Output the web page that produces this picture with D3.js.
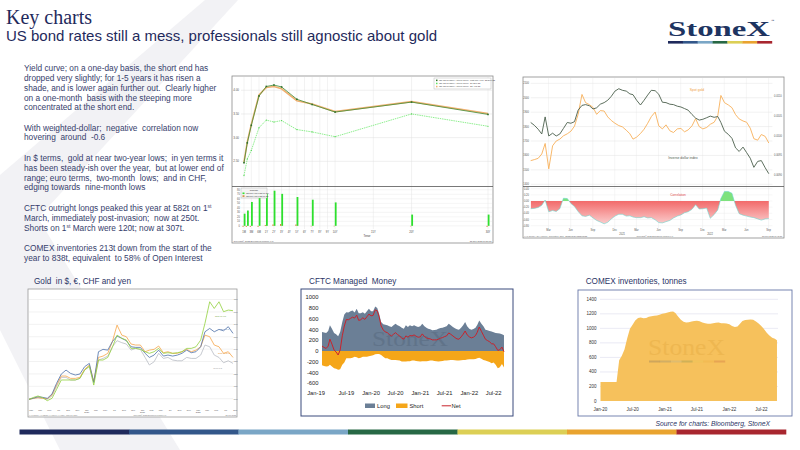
<!DOCTYPE html>
<html><head><meta charset="utf-8">
<script src="https://cdn.jsdelivr.net/npm/d3@7/dist/d3.min.js"></script>
<style>
html,body{margin:0;padding:0;background:#fff;}
svg{display:block;font-family:"Liberation Sans",Arial,sans-serif;}
text{white-space:pre;}
</style></head><body>
<svg id="c" width="800" height="450" xmlns="http://www.w3.org/2000/svg"></svg>
<script>
// ================= DATA =================
// Yield curve (US Treasury actives)
const tenors = ["1M","2M","3M","6M","1Y","2Y","3Y","5Y","7Y","10Y","20Y","30Y"];
const tenorYears = [1/12,2/12,3/12,0.5,1,2,3,5,7,10,20,30];
const yieldNow = [2.47,2.89,3.26,3.88,4.08,4.11,4.07,3.81,3.70,3.54,3.75,3.49];
const yieldPrevDay = [2.49,2.91,3.28,3.90,4.06,4.08,4.03,3.78,3.71,3.55,3.76,3.51];
const yieldMonthAgo = [2.20,2.55,2.73,3.21,3.37,3.33,3.36,3.17,3.12,3.02,3.50,3.24];
const yieldTickLabels = ["1M","3M","6M","1Y","2Y","3Y","4Y","5Y","6Y","7Y","8Y","9Y","10Y","15Y","20Y","30Y"];
const yieldTickYears = [1/12,0.25,0.5,1,2,3,4,5,6,7,8,9,10,15,20,30];
const yieldAxisTicks = [2.5,3.0,3.5,4.0];
const changeAxisTicks = [0,10,20,30,40,50,60,70,80];

// Spot gold vs inverse dollar index, semi-monthly from Jan 2020
const goldSpot = [1564,1571,1580,1610,1683,1507,1667,1700,1713,1736,
  1750,1768,1803,1885,2023,1966,1952,1933,1885,1911,
  1908,1867,1842,1823,1807,1798,1775,1750,1713,1727,
  1752,1782,1823,1869,1901,1805,1784,1812,1771,1759,
  1784,1787,1764,1777,1805,1855,1800,1784,1794,1816,
  1830,1874,2016,1966,1950,1931,1883,1853,1839,1830,
  1789,1716,1706,1745,1732,1686];
const invDollar = [0.01033,0.01026,0.01016,0.01004,0.01047,0.00999,0.01006,0.00999,0.01004,0.01018,
  0.01033,0.01031,0.01035,0.01064,0.01076,0.01078,0.01075,0.01067,0.01070,0.01079,
  0.01083,0.01089,0.01099,0.01112,0.01118,0.01114,0.01112,0.01105,0.01103,0.01089,
  0.01077,0.01089,0.01102,0.01114,0.01113,0.01104,0.01084,0.01083,0.01079,0.01078,
  0.01074,0.01072,0.01068,0.01064,0.01053,0.01044,0.01039,0.01041,0.01045,0.01049,
  0.01046,0.01048,0.01033,0.01011,0.01003,0.00993,0.00969,0.00960,0.00971,0.00957,
  0.00943,0.00920,0.00935,0.00937,0.00919,0.00904];
const goldDollarCorr = [-0.25,-0.24,-0.21,-0.14,0.03,-0.35,-0.31,-0.34,-0.25,0.09,
  0.08,-0.08,-0.18,-0.34,-0.48,-0.50,-0.46,-0.55,-0.63,-0.68,
  -0.74,-0.69,-0.58,-0.49,-0.43,-0.43,-0.49,-0.48,-0.52,-0.54,
  -0.54,-0.51,-0.55,-0.54,-0.61,-0.70,-0.71,-0.67,-0.63,-0.55,
  -0.49,-0.45,-0.38,-0.35,-0.27,-0.12,-0.26,-0.25,-0.23,-0.56,
  -0.44,-0.29,0.08,0.31,0.31,0.25,-0.14,-0.41,-0.46,-0.49,
  -0.52,-0.54,-0.58,-0.62,-0.58,-0.57];
const goldTicks = [1400,1500,1600,1700,1800,1900,2000,2100];
const invTicks = [0.0090,0.0095,0.0100,0.0105,0.0110];
const corrTicks = [0.4,0.2,0,-0.2,-0.4,-0.6,-0.8];

// Gold in $, EUR, CHF, JPY (indexed), monthly from Jan 2019
const goldUSDIdx = [99.5,100.3,100.8,100.3,99.5,102.2,109.7,117.2,117.2,115.1,
  115.1,116.4,123.1,125.8,113.5,131.2,132.5,134.4,141.9,146.8,
  145.2,144.1,139.2,140.6,139.8,133.3,127.2,129.8,136.6,132.5,
  133.3,131.2,130.6,130.6,133.3,132.5,132.5,135.2,143.3,141.9,
  135.2,133.3,129.0,130.6,128.5];
const goldEURIdx = [99.5,100.5,101.6,101.1,100.3,103.8,112.4,119.9,123.1,120.4,
  119.1,119.9,125.8,128.5,113.0,137.9,139.8,139.2,146.0,150.5,
  148.7,146.8,141.9,141.4,141.4,136.6,133.3,135.2,139.2,134.4,
  135.2,134.4,135.2,136.6,139.2,137.1,137.9,141.9,154.0,156.7,
  154.0,155.9,154.8,158.1,152.7];
const goldCHFIdx = [99.5,100.3,100.8,100.3,100.0,103.0,111.0,118.3,118.3,116.4,
  116.4,117.2,123.7,127.2,114.0,133.3,134.4,136.6,146.0,159.4,
  151.3,150.0,144.1,143.3,143.3,137.9,139.2,139.8,142.5,137.1,
  137.9,136.6,136.6,137.9,139.8,137.9,139.2,141.9,151.3,150.0,
  143.3,141.9,136.6,137.9,133.3];
const goldJPYIdx = [99.5,101.1,102.2,100.8,98.4,100.3,107.5,115.1,115.1,115.1,
  115.1,116.4,123.1,126.3,111.0,131.2,131.2,133.3,141.4,151.3,
  148.7,147.3,140.6,140.6,139.8,137.9,136.6,137.9,140.6,136.6,
  137.1,136.6,137.1,137.9,140.6,140.6,141.9,147.3,160.8,178.2,
  172.8,178.2,170.2,171.5,171.0];
const goldIdxTicks = [100,110,120,130,140,150,160,170,180];

// CFTC managed money (tonnes), semi-monthly from Jan 2019
const cftcLong = [356,343,337,374,478,417,337,313,276,356,
  540,680,723,717,742,754,717,785,705,705,
  723,693,742,785,742,742,828,803,693,540,
  497,490,478,460,447,478,509,478,460,435,
  417,478,447,478,460,478,
  460,447,460,509,460,435,417,405,386,392,
  398,417,429,435,447,460,509,478,447,423,
  405,398,435,478,539,460,417,398,411,435,
  484,570,509,460,398,386,374,362,349,337,
  331,325,313,294];
const cftcShort = [-264,-276,-288,-282,-257,-288,-319,-331,-349,-337,
  -257,-215,-135,-135,-135,-123,-104,-116,-135,-123,
  -104,-104,-104,-98,-86,-80,-61,-55,-55,-74,
  -104,-135,-135,-153,-166,-166,-166,-172,-178,-196,
  -196,-196,-190,-190,-178,-178,
  -184,-190,-196,-190,-190,-190,-184,-178,-178,-184,
  -190,-196,-190,-184,-178,-178,-172,-166,-166,-172,
  -178,-178,-172,-166,-166,-159,-153,-153,-153,-147,
  -135,-123,-141,-166,-178,-190,-202,-227,-215,-257,
  -319,-300,-239,-307];
const cftcTicks = [1000,800,600,400,200,0,-200,-400,-600];

// COMEX inventories (tonnes), semi-monthly from Jan 2020 plus latest
const comexTonnes = [262,262,262,262,262,262,262,562,622,710,
  868,993,1049,1109,1142,1150,1140,1144,1159,1167,
  1172,1177,1189,1200,1209,1219,1228,1232,1213,1164,
  1119,1091,1081,1085,1094,1101,1104,1099,1080,1069,
  1064,1063,1071,1076,1081,1072,1072,1066,1055,1032,
  1020,1024,1059,1102,1115,1120,1122,1118,1094,1067,
  1034,990,941,901,871,856];
const comexLatest = {date:"2022-09-28", value:838};
const comexTicks = [0,200,400,600,800,1000,1200,1400];

// Text
const titleMain = "Key charts";
const titleSub = "US bond rates still a mess, professionals still agnostic about gold";
const paragraphs = [
  [[["Yield curve; on a one-day basis, the short end has"]],
   [["dropped very slightly; for 1-5 years it has risen a"]],
   [["shade, and is lower again further out.  Clearly higher"]],
   [["on a one-month  basis with the steeping more"]],
   [["concentrated at the short end."]]],
  [[["With weighted-dollar;  negative  correlation now"]],
   [["hovering  around  -0.6"]]],
  [[["In $ terms,  gold at near two-year lows;  in yen terms it"]],
   [["has been steady-ish over the year,  but at lower end of"]],
   [["range; euro terms,  two-month  lows;  and in CHF,"]],
   [["edging towards  nine-month lows"]]],
  [[["CFTC outright longs peaked this year at 582t on 1"],["st",1]],
   [["March, immediately post-invasion;  now at 250t."]],
   [["Shorts on 1"],["st",1],[" March were 120t; now at 307t."]]],
  [[["COMEX inventories 213t down from the start of the"]],
   [["year to 838t, equivalent  to 58% of Open Interest"]]]
];
const brandColors = ["#1f2a5c","#33578a","#7aa6c6","#276845","#dccf55","#e9a32f","#a8262f"];

// ================= DRAW =================
const svg = d3.select("#c");
const NAVY = "#1f2a5c";
const TXT = "#363e6c";
const defs = svg.append("defs");

function T(g, x, y, s, o) {
  const t = g.append("text").attr("x", x).attr("y", y).text(s);
  if (o) for (const k in o) t.attr(k, o[k]);
  return t;
}
function semiMonthly(y0, m0, n) {
  const out = [];
  for (let i = 0; i < n; i++) out.push(new Date(y0, m0 + Math.floor(i / 2), i % 2 === 0 ? 1 : 16));
  return out;
}
const fmtMY = d3.timeFormat("%b-%y");

// background watermark chevron
svg.append("polygon").attr("points","205,0 238,0 38,218 180,450 60,450 0,330 0,175").attr("fill","#f2f2f5");

// titles
T(svg, 6, 24, titleMain, {"font-family":"Liberation Serif, Times New Roman, serif","font-size":20,"fill":NAVY});
T(svg, 6, 41, titleSub, {"font-size":15,"fill":NAVY});

// logo
const logo = svg.append("g");
T(logo, 668, 36, "StoneX", {"font-family":"Liberation Serif, serif","font-weight":"bold","font-size":22,"fill":"#1e3461","textLength":102,"lengthAdjust":"spacingAndGlyphs"});
T(logo, 771, 22, "™", {"font-size":3.5,"fill":"#1e3461"});
const logoX = d3.scaleBand().domain(d3.range(7)).range([668, 772]);
logo.selectAll("rect").data(brandColors).join("rect")
  .attr("x",(d,i)=>logoX(i)).attr("y",41).attr("width",logoX.bandwidth()+0.2).attr("height",2.6).attr("fill",d=>d);

// body text
const paraStart = [71.2, 130.5, 161, 211, 251];
const lineH = 9.8;
const body = svg.append("g").attr("font-size",8.3).attr("fill",TXT);
paragraphs.forEach((p, pi) => {
  p.forEach((line, li) => {
    const t = body.append("text").attr("x",24).attr("y",paraStart[pi] + li*lineH);
    line.forEach(seg => {
      const ts = t.append("tspan").text(seg[0]);
      if (seg[1]) ts.attr("font-size",5).attr("dy",-3);
      else if (line.length > 1 && line.indexOf(seg) > 0 && line[line.indexOf(seg)-1][1]) ts.attr("dy",3);
    });
  });
});

// ---------- Chart 1: yield curve ----------
(function(){
  const g = svg.append("g");
  const L = 241, R = 492, T1 = 77, B1 = 185, T2 = 188, B2 = 229;
  g.append("rect").attr("x",232).attr("y",76).attr("width",261).attr("height",167).attr("fill","#fff").attr("stroke","#8a8a8a").attr("stroke-width",0.8);
  const x = d3.scaleLinear().domain([1/12,2/12,3/12,0.5,1,30]).range([244,247.3,251.3,259,266.3,488]);
  const y = d3.scaleLinear().domain([2.0,4.28]).range([B1,T1]);
  const y2 = d3.scaleLinear().domain([-7,84]).range([B2,T2]);
  // grids
  g.selectAll(".vg").data(yieldTickYears).join("line").attr("x1",d=>x(d)).attr("x2",d=>x(d)).attr("y1",T1).attr("y2",B2)
    .attr("stroke","#e4e4e4").attr("stroke-width",0.5);
  g.selectAll(".hg").data(yieldAxisTicks).join("line").attr("x1",L).attr("x2",R).attr("y1",d=>y(d)).attr("y2",d=>y(d))
    .attr("stroke","#dedede").attr("stroke-width",0.5);
  g.selectAll(".hg2").data(changeAxisTicks).join("line").attr("x1",L).attr("x2",R).attr("y1",d=>y2(d)).attr("y2",d=>y2(d))
    .attr("stroke","#e6e6e6").attr("stroke-width",0.4);
  g.selectAll(".yl").data(yieldAxisTicks).join("text").attr("x",239).attr("y",d=>y(d)+1).attr("text-anchor","end")
    .attr("font-size",3).attr("fill","#555").text(d=>d.toFixed(2));
  g.selectAll(".yl2").data(changeAxisTicks).join("text").attr("x",240).attr("y",d=>y2(d)+1).attr("text-anchor","end")
    .attr("font-size",2.6).attr("fill","#555").text(d=>d);
  g.append("line").attr("x1",232).attr("x2",493).attr("y1",186.5).attr("y2",186.5).attr("stroke","#555").attr("stroke-width",0.8);
  // lines
  const pts = v => v.map((d,i)=>[x(tenorYears[i]), y(d)]);
  const ln = d3.line();
  g.append("path").attr("d",ln(pts(yieldMonthAgo))).attr("fill","none").attr("stroke","#5ee65e").attr("stroke-width",0.7).attr("stroke-dasharray","1.5,0.8");
  g.append("path").attr("d",ln(pts(yieldPrevDay))).attr("fill","none").attr("stroke","#f0b070").attr("stroke-width",1.6);
  g.append("path").attr("d",ln(pts(yieldNow))).attr("fill","none").attr("stroke","#3f8c36").attr("stroke-width",0.8);
  g.selectAll(".mk").data(yieldNow).join("rect").attr("x",(d,i)=>x(tenorYears[i])-0.8).attr("y",d=>y(d)-0.8)
    .attr("width",1.6).attr("height",1.6).attr("fill","#2f6f2a");
  g.selectAll(".mk3").data(yieldMonthAgo).join("circle").attr("cx",(d,i)=>x(tenorYears[i])).attr("cy",d=>y(d)).attr("r",0.6).attr("fill","#4cd44c");
  // legend upper
  g.append("rect").attr("x",434).attr("y",78).attr("width",57).attr("height",11).attr("fill","#fff").attr("stroke","#aaa").attr("stroke-width",0.4);
  const legItems = [["#2f6f2a","I25 US Treasury Actives Curve  Last Mid YTM  22-Sep-22"],["#5ee65e","I25 US Treasury Actives Curve  21-Sep-22"],["#f0b070","I25 US Treasury Actives Curve  22-Aug-22"]];
  legItems.forEach((d,i)=>{
    g.append("rect").attr("x",436).attr("y",79.6+i*3.1).attr("width",1.5).attr("height",1.5).attr("fill",d[0]);
    T(g, 439, 81+i*3.1, d[1], {"font-size":2.2,"fill":"#444"});
  });
  // bars
  const chgMonth = yieldNow.map((d,i)=>Math.round((d - yieldMonthAgo[i])*100));
  const chgDay = yieldNow.map((d,i)=>Math.round((d - yieldPrevDay[i])*100));
  g.selectAll(".bm").data(chgMonth).join("rect").attr("x",(d,i)=>x(tenorYears[i])-0.3).attr("width",1.8)
    .attr("y",d=>y2(Math.max(0,d))).attr("height",d=>Math.abs(y2(d)-y2(0))).attr("fill","#2ee02e");
  g.selectAll(".bd").data(chgDay).join("rect").attr("x",(d,i)=>x(tenorYears[i])-1.6).attr("width",1.3)
    .attr("y",d=>y2(Math.max(0,d))).attr("height",d=>Math.max(0.4,Math.abs(y2(d)-y2(0)))).attr("fill","#d08a3a");
  g.append("rect").attr("x",241).attr("y",188).attr("width",26).attr("height",10).attr("fill","#f4f4f4").attr("stroke","#aaa").attr("stroke-width",0.4);
  T(g, 254, 190.8, "Change", {"font-size":2.4,"fill":"#333","text-anchor":"middle"});
  T(g, 246, 194, "I25 Mid YTM (Last vs 1M)", {"font-size":2,"fill":"#333"});
  T(g, 246, 196.8, "I25 Mid YTM (Last vs 1D)", {"font-size":2,"fill":"#333"});
  g.append("rect").attr("x",242.5).attr("y",192.5).attr("width",2).attr("height",1.6).attr("fill","#2ee02e");
  g.append("rect").attr("x",242.5).attr("y",195.3).attr("width",2).attr("height",1.6).attr("fill","#d08a3a");
  g.selectAll(".xl").data(yieldTickLabels).join("text").attr("x",(d,i)=>x(yieldTickYears[i])).attr("y",232.5)
    .attr("text-anchor","middle").attr("font-size",2.6).attr("fill","#444").text(d=>d);
  T(g, 367, 237, "Tenor", {"font-size":2.8,"fill":"#444","text-anchor":"middle"});
  T(g, 233.5, 241.5, "Copyright© 2022 Bloomberg Finance L.P.", {"font-size":2.2,"fill":"#555"});
  T(g, 491.5, 241.5, "22-Sep-2022 10:21:15", {"font-size":2.2,"fill":"#555","text-anchor":"end"});
})();

// ---------- Chart 2: spot gold vs inverse dollar ----------
(function(){
  const g = svg.append("g");
  const L = 530.7, R = 772.4, T1 = 78, B1 = 186, T2 = 187, B2 = 229;
  g.append("rect").attr("x",523).attr("y",77).attr("width",261).attr("height",161).attr("fill","#fff").attr("stroke","#8a8a8a").attr("stroke-width",0.8);
  const dates = semiMonthly(2020,0,goldSpot.length);
  const x = d3.scaleTime().domain([new Date(2020,0,1), new Date(2022,9,1)]).range([L,R]);
  const yG = d3.scaleLinear().domain([1388,2137]).range([B1,T1]);
  const yI = d3.scaleLinear().domain([0.00873,0.01145]).range([B1,T1]);
  const yC = d3.scaleLinear().domain([-0.908,0.454]).range([B2,T2]);
  const qMid = d3.timeMonth.range(new Date(2020,0,1), new Date(2022,9,1)).filter(d=>d.getMonth()%3===2).map(d=>new Date(d.getFullYear(), d.getMonth(), 15));
  g.selectAll(".vg").data(qMid).join("line").attr("x1",d=>x(d)).attr("x2",d=>x(d)).attr("y1",T1).attr("y2",B2).attr("stroke","#ececec").attr("stroke-width",0.5);
  g.selectAll(".hg").data(goldTicks).join("line").attr("x1",L).attr("x2",R).attr("y1",d=>yG(d)).attr("y2",d=>yG(d)).attr("stroke","#e2e2e2").attr("stroke-width",0.5);
  g.selectAll(".hg2").data(corrTicks).join("line").attr("x1",L).attr("x2",R).attr("y1",d=>yC(d)).attr("y2",d=>yC(d)).attr("stroke","#ececec").attr("stroke-width",0.4);
  g.selectAll(".gl").data(goldTicks).join("text").attr("x",529).attr("y",d=>yG(d)+1).attr("text-anchor","end").attr("font-size",2.6).attr("fill","#555").text(d=>d);
  g.selectAll(".il").data(invTicks).join("text").attr("x",774).attr("y",d=>yI(d)+1).attr("font-size",2.6).attr("fill","#555").text(d=>d.toFixed(4));
  g.selectAll(".cl").data(corrTicks).join("text").attr("x",529).attr("y",d=>yC(d)+1).attr("text-anchor","end").attr("font-size",2.6).attr("fill","#555").text(d=>d.toFixed(2));
  g.append("line").attr("x1",523).attr("x2",784).attr("y1",186.5).attr("y2",186.5).attr("stroke","#555").attr("stroke-width",0.8);
  g.append("path").attr("d",d3.line().x((d,i)=>x(dates[i])).y(d=>yG(d))(goldSpot)).attr("fill","none").attr("stroke","#f7b05a").attr("stroke-width",0.9);
  g.append("path").attr("d",d3.line().x((d,i)=>x(dates[i])).y(d=>yI(d))(invDollar)).attr("fill","none").attr("stroke","#4b5f4c").attr("stroke-width",0.9);
  T(g, 697, 91, "Spot gold", {"font-size":3.4,"fill":"#f0a040","text-anchor":"middle"});
  T(g, 683, 158.5, "Inverse dollar index", {"font-size":3.4,"fill":"#50604f","text-anchor":"middle"});
  // correlation
  const grad = defs.append("linearGradient").attr("id","redg").attr("gradientUnits","userSpaceOnUse").attr("x1",0).attr("x2",0).attr("y1",yC(0)).attr("y2",B2);
  grad.append("stop").attr("offset",0).attr("stop-color","#f26a6a");
  grad.append("stop").attr("offset",1).attr("stop-color","#fde3e3");
  defs.append("clipPath").attr("id","cpos").append("rect").attr("x",L).attr("y",T2).attr("width",R-L).attr("height",yC(0)-T2);
  defs.append("clipPath").attr("id","cneg").append("rect").attr("x",L).attr("y",yC(0)).attr("width",R-L).attr("height",B2-yC(0));
  const ar = d3.area().x((d,i)=>x(dates[i])).y0(yC(0)).y1(d=>yC(d));
  g.append("path").attr("d",ar(goldDollarCorr)).attr("fill","#7ee27e").attr("clip-path","url(#cpos)");
  g.append("path").attr("d",ar(goldDollarCorr)).attr("fill","url(#redg)").attr("clip-path","url(#cneg)");
  g.append("path").attr("d",d3.line().x((d,i)=>x(dates[i])).y(d=>yC(d))(goldDollarCorr)).attr("fill","none").attr("stroke","#6fd6cf").attr("stroke-width",0.6);
  T(g, 678, 196, "Correlation", {"font-size":3.2,"fill":"#e04848","text-anchor":"middle"});
  g.selectAll(".ml").data(qMid).join("text").attr("x",d=>x(d)).attr("y",231.3).attr("text-anchor","middle").attr("font-size",2.6).attr("fill","#555").text(d=>d3.timeFormat("%b")(d));
  const yrs = [new Date(2021,0,15), new Date(2022,0,15)];
  g.selectAll(".yr").data(yrs).join("text").attr("x",d=>x(d)).attr("y",234.5).attr("text-anchor","middle").attr("font-size",2.6).attr("fill","#555").text(d=>d.getFullYear());
  T(g, 524, 237, "XAU Curncy / DXY Curncy  Correlation  Daily  22SEP2020-22SEP2022", {"font-size":2,"fill":"#666"});
  T(g, 655, 237, "Copyright© 2022 Bloomberg Finance L.P.", {"font-size":2,"fill":"#666","text-anchor":"middle"});
  T(g, 782, 237, "22-Sep-2022 10:42:25", {"font-size":2,"fill":"#666","text-anchor":"end"});
})();

// ---------- Chart 3: gold in $, EUR, CHF, yen ----------
(function(){
  const g = svg.append("g");
  T(g, 34, 284, "Gold  in $, €, CHF and yen", {"font-size":8.2,"fill":"#2b3566"});
  g.append("rect").attr("x",28).attr("y",289).attr("width",209).attr("height",128).attr("fill","#fff").attr("stroke","#9a9a9a").attr("stroke-width",0.8);
  const dates = d3.timeMonth.range(new Date(2019,0,1), new Date(2022,9,1));
  const x = d3.scaleTime().domain([new Date(2019,0,1), new Date(2022,8,1)]).range([29,233]);
  const y = d3.scaleLinear().domain([92.5,187.7]).range([408,290]);
  g.selectAll(".hg").data(goldIdxTicks).join("line").attr("x1",29).attr("x2",233).attr("y1",d=>y(d)).attr("y2",d=>y(d)).attr("stroke","#e4e4e4").attr("stroke-width",0.5);
  g.selectAll(".rl").data(goldIdxTicks).join("text").attr("x",233.6).attr("y",d=>y(d)+0.8).attr("font-size",2.3).attr("fill","#666").text(d=>d);
  const series = [[goldUSDIdx,"#b9bcc4"],[goldCHFIdx,"#f6a64a"],[goldEURIdx,"#4d70a8"],[goldJPYIdx,"#92d13e"]];
  const ln = d3.line().x((d,i)=>x(dates[i])).y(d=>y(d));
  series.forEach(s=>g.append("path").attr("d",ln(s[0])).attr("fill","none").attr("stroke",s[1]).attr("stroke-width",0.8));
  T(g, 226, y(goldJPYIdx[44])+6, "Gold in yen", {"font-size":2.2,"fill":"#6a9a30","text-anchor":"end"});
  T(g, 229, y(goldEURIdx[44])-3, "Gold in €", {"font-size":2.2,"fill":"#4d70a8","text-anchor":"end"});
  T(g, 230, y(goldCHFIdx[44])-3, "Gold in CHF", {"font-size":2.2,"fill":"#e08a2a","text-anchor":"end"});
  T(g, 222, y(goldUSDIdx[44])+6, "Gold in $", {"font-size":2.2,"fill":"#999","text-anchor":"end"});
  const lab = d3.timeMonth.range(new Date(2019,0,1), new Date(2022,9,1)).filter(d=>d.getMonth()%2===0).map(d=>new Date(d.getFullYear(), d.getMonth(), 15));
  g.selectAll(".ml").data(lab).join("text").attr("x",d=>x(d)).attr("y",410.6).attr("text-anchor","middle").attr("font-size",2.2).attr("fill","#555").text(d=>d3.timeFormat("%b")(d));
  const yrs = [new Date(2020,0,15), new Date(2021,0,15), new Date(2022,0,15)];
  g.selectAll(".yr").data(yrs).join("text").attr("x",d=>x(d)).attr("y",413.4).attr("text-anchor","middle").attr("font-size",2.2).attr("fill","#555").text(d=>d.getFullYear());
  T(g, 29, 416, "XAU Curncy / XAUEUR / XAUCHF / XAUJPY  indexed  Daily", {"font-size":1.8,"fill":"#777"});
  T(g, 150, 416, "Copyright© 2022 Bloomberg Finance L.P.", {"font-size":1.8,"fill":"#777","text-anchor":"middle"});
  T(g, 236, 416, "22-Sep-2022", {"font-size":1.8,"fill":"#777","text-anchor":"end"});
})();

// ---------- Chart 4: CFTC managed money ----------
(function(){
  const g = svg.append("g");
  T(g, 309, 284, "CFTC Managed  Money", {"font-size":8.2,"fill":"#2b3566"});
  g.append("rect").attr("x",301).attr("y",289).attr("width",212).attr("height",127).attr("fill","#fff").attr("stroke","#3a4a7c").attr("stroke-width",1);
  const dates = semiMonthly(2019,0,cftcLong.length);
  const x = d3.scaleTime().domain([new Date(2019,0,1), new Date(2022,9,1)]).range([322,506]);
  const y = d3.scaleLinear().domain([-600,1000]).range([383.3,297.3]);
  const net = cftcLong.map((d,i)=>d + cftcShort[i]);
  g.append("path").attr("d",d3.area().x((d,i)=>x(dates[i])).y0(y(0)).y1(d=>y(d))(cftcLong)).attr("fill","#6b7f96");
  g.append("path").attr("d",d3.area().x((d,i)=>x(dates[i])).y0(y(0)).y1(d=>y(d))(cftcShort)).attr("fill","#f5a619");
  T(g, 372, 346, "StoneX", {"font-family":"Liberation Serif, serif","font-size":22,"fill":"#3c4a5e","opacity":0.22,"textLength":76,"lengthAdjust":"spacingAndGlyphs"});
  g.append("path").attr("d",d3.line().x((d,i)=>x(dates[i])).y(d=>y(d))(net)).attr("fill","none").attr("stroke","#c8232c").attr("stroke-width",1);
  g.selectAll(".yl").data(cftcTicks).join("text").attr("x",318.5).attr("y",d=>y(d)+2).attr("text-anchor","end").attr("font-size",5.8).attr("fill","#222").text(d=>d);
  const xt = d3.timeMonth.range(new Date(2019,0,1), new Date(2022,7,1)).filter(d=>d.getMonth()%6===0);
  g.selectAll(".xl").data(xt).join("text").attr("x",(d,i)=>i===0 ? x(d)-6 : x(d)).attr("y",394.5).attr("text-anchor","middle").attr("font-size",5.8).attr("fill","#222").text(d=>fmtMY(d));
  const leg = [["Long","#6b7f96","rect",365,377],["Short","#f5a619","rect",396,409.5],["Net","#c8232c","line",441.7,451.5]];
  leg.forEach(d=>{
    if (d[2]==="rect") g.append("rect").attr("x",d[3]).attr("y",403.5).attr("width",d[4]-d[3]-2).attr("height",4.5).attr("fill",d[1]);
    else g.append("line").attr("x1",d[3]).attr("x2",d[4]-0.5).attr("y1",405.8).attr("y2",405.8).attr("stroke",d[1]).attr("stroke-width",1);
    T(g, d[4], 408, d[0], {"font-size":5.8,"fill":"#222"});
  });
})();

// ---------- Chart 5: COMEX inventories ----------
(function(){
  const g = svg.append("g");
  T(g, 585.7, 284, "COMEX inventories, tonnes", {"font-size":8.2,"fill":"#2b3566"});
  g.append("rect").attr("x",578).attr("y",290).attr("width",214).attr("height",126).attr("fill","#fff").attr("stroke","#6878a8").attr("stroke-width",0.9);
  const dates = semiMonthly(2020,0,comexTonnes.length).concat([new Date(comexLatest.date)]);
  const vals = comexTonnes.concat([comexLatest.value]);
  const x = d3.scaleTime().domain([new Date(2020,0,1), new Date(2022,9,1)]).range([600.5,777.5]);
  const y = d3.scaleLinear().domain([0,1400]).range([401,299.3]);
  g.selectAll(".hg").data(comexTicks.slice(1)).join("line").attr("x1",600).attr("x2",778).attr("y1",d=>y(d)).attr("y2",d=>y(d)).attr("stroke","#dcdcec").attr("stroke-width",0.6);
  g.append("path").attr("d",d3.area().x((d,i)=>x(dates[i])).y0(y(0)).y1(d=>y(d))(vals)).attr("fill","#f6c15c");
  T(g, 648, 355, "StoneX", {"font-family":"Liberation Serif, serif","font-size":23,"fill":"#d99a30","opacity":0.25,"textLength":77,"lengthAdjust":"spacingAndGlyphs"});
  const wx = d3.scaleBand().domain(d3.range(7)).range([649,725]);
  g.selectAll(".wb").data(brandColors).join("rect").attr("x",(d,i)=>wx(i)).attr("y",360.5).attr("width",wx.bandwidth()+0.2).attr("height",2).attr("fill",d=>d).attr("opacity",0.18);
  g.selectAll(".yl").data(comexTicks).join("text").attr("x",596.5).attr("y",d=>y(d)+1.5).attr("text-anchor","end").attr("font-size",4.5).attr("fill","#333").text(d=>d);
  const xt = d3.timeMonth.range(new Date(2020,0,1), new Date(2022,7,1)).filter(d=>d.getMonth()%6===0);
  g.selectAll(".xl").data(xt).join("text").attr("x",d=>x(d)).attr("y",411).attr("text-anchor","middle").attr("font-size",4.5).attr("fill","#333").text(d=>fmtMY(d));
})();

// ---------- footer ----------
T(svg, 770, 426, "Source for charts: Bloomberg, StoneX", {"font-size":6.8,"font-style":"italic","fill":"#2b3566","text-anchor":"end"});
const fx = d3.scaleBand().domain(d3.range(7)).range([19.5, 786]);
svg.append("g").selectAll("rect").data(brandColors).join("rect")
  .attr("x",(d,i)=>fx(i)).attr("y",429.5).attr("width",fx.bandwidth()+0.3).attr("height",5).attr("fill",d=>d);
</script>
</body></html>
